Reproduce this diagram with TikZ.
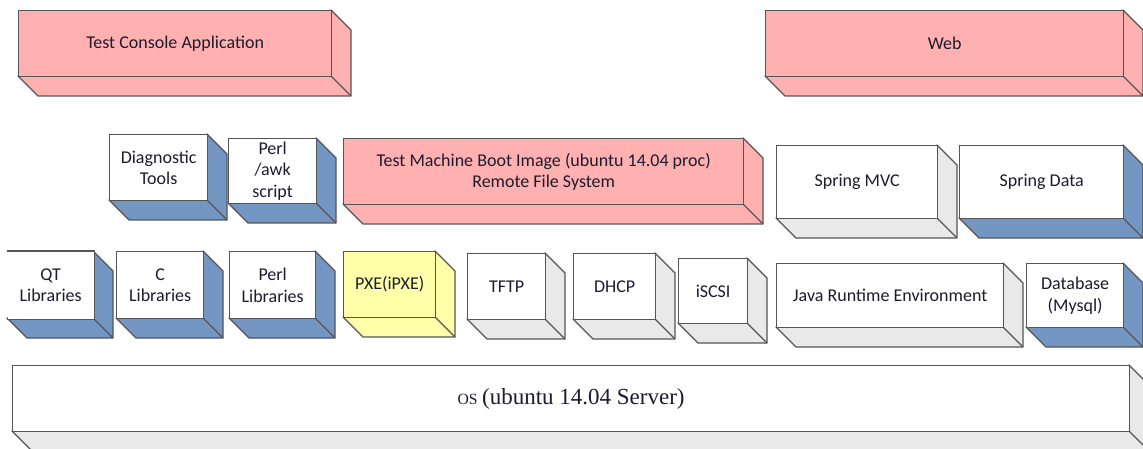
\documentclass[tikz,border=0pt]{standalone}
\usepackage{fontspec}
\setmainfont{Carlito}
\newfontfamily\osfont{Liberation Serif}
\definecolor{pinkf}{HTML}{FFB0B0}
\definecolor{bluef}{HTML}{7396C3}
\definecolor{grayf}{HTML}{E9E9E9}
\definecolor{yellowf}{HTML}{FFFFAA}
\definecolor{edgec}{HTML}{555555}
\definecolor{txt}{HTML}{1C1C2C}
\tikzset{
  frontface/.style={draw=edgec, line width=1.3pt, inner sep=0pt, anchor=north west,
    align=center, text=txt, font=\fontsize{18}{21.5}\selectfont},
  sideface/.style={draw=edgec, line width=1.3pt, line join=round},
}
% name, x1, y1, x2, y2, front colour, side colour, text
\newcommand\cuboid[8]{%
  \pgfmathsetmacro\cw{#4-#2}\pgfmathsetmacro\ch{#5-#3}%
  \draw[sideface, fill=#7] (#4,#3) -- (#4+20,#3+20) -- (#4+20,#5+20) -- (#2+20,#5+20)
     -- (#2,#5) -- (#4,#5) -- cycle;
  \draw[sideface] (#4,#5) -- (#4+20,#5+20);
  \node[frontface, fill=#6, minimum width=\cw pt, minimum height=\ch pt] (#1) at (#2,#3) {#8};
}
\begin{document}
\begin{tikzpicture}[x=1pt,y=-1pt]
\useasboundingbox (0,0) rectangle (1143,449);
\clip (0,0) rectangle (1143,449);
\fill[white] (0,0) rectangle (1143,449);
% top row
\cuboid{console}{18}{10}{331}{76}{pinkf}{pinkf}{Test Console Application}
\cuboid{web}{765}{10}{1123}{76}{pinkf}{pinkf}{Web}
% middle row
\cuboid{diag}{109}{134}{207}{200}{white}{bluef}{Diagnostic\\Tools}
\cuboid{perlawk}{228}{138}{316}{203}{white}{bluef}{Perl\\/awk\\script}
\cuboid{boot}{343}{138}{743}{204}{pinkf}{pinkf}{Test Machine Boot Image (ubuntu 14.04 proc)\\Remote File System}
\cuboid{springmvc}{776}{145}{937}{218}{white}{grayf}{Spring MVC}
\cuboid{springdata}{959}{145}{1123}{218}{white}{bluef}{Spring Data}
% lower row
\draw[sideface, fill=bluef] (93,251) -- (113,271) -- (113,338) -- (27,338) -- (7,318) -- (93,318) -- cycle;
\draw[sideface] (93,318) -- (113,338);
\node[frontface, draw=none, fill=white, minimum width=86pt, minimum height=67pt] (qt) at (7,251) {QT\\Libraries};
\draw[sideface] (qt.north west) -- (qt.north east) -- (qt.south east) -- (qt.south west);
\cuboid{clib}{116}{251}{203}{318}{white}{bluef}{C\\Libraries}
\cuboid{perllib}{229}{251}{315}{318}{white}{bluef}{Perl\\Libraries}
\cuboid{pxe}{343}{251}{435}{317}{yellowf}{yellowf}{PXE(iPXE)}
\cuboid{tftp}{467}{253}{545}{319}{white}{grayf}{TFTP}
\cuboid{dhcp}{573}{253}{655}{319}{white}{grayf}{DHCP}
\cuboid{iscsi}{678}{258}{747}{323}{white}{grayf}{iSCSI}
\cuboid{jre}{776}{263}{1003}{327}{white}{grayf}{Java Runtime Environment}
\cuboid{db}{1026}{263}{1123}{327}{white}{bluef}{Database\\(Mysql)}
% base
\cuboid{os}{12}{365}{1129}{431}{white}{grayf}{\osfont{\fontsize{15.6}{18}\selectfont OS} \fontsize{23}{26}\selectfont(ubuntu 14.04 Server)}
\end{tikzpicture}
\end{document}
